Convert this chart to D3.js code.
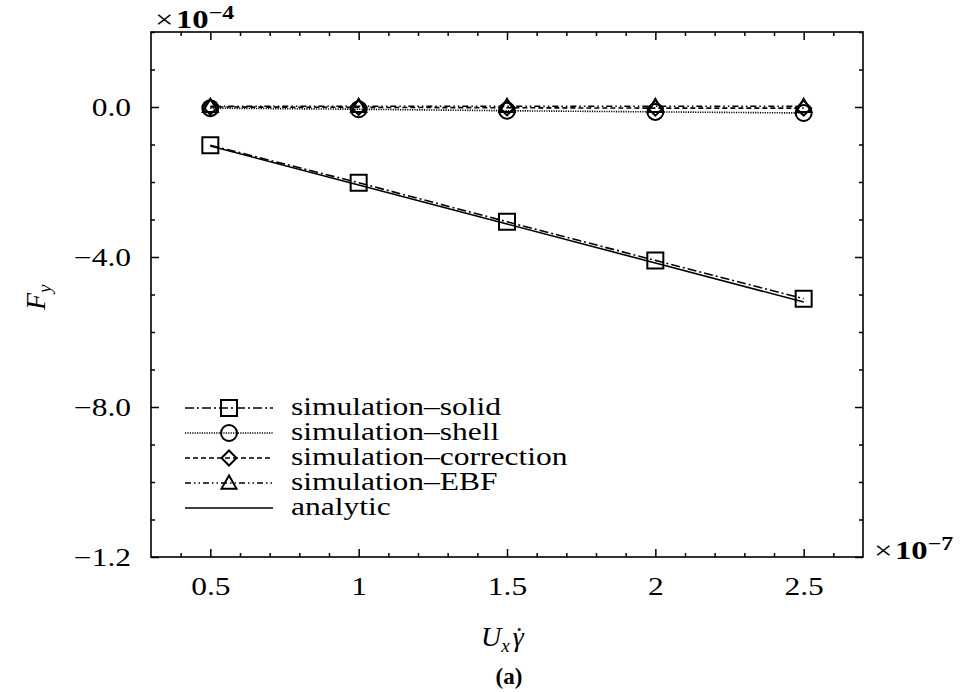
<!DOCTYPE html>
<html><head><meta charset="utf-8">
<script src="https://cdn.jsdelivr.net/npm/d3@7"></script>
<style>body{margin:0;background:#fff}svg{display:block}</style>
</head><body><svg id="c" width="966" height="692"></svg>
<script>
const FONT = "'Liberation Serif','Times New Roman',Tinos,'Noto Serif','DejaVu Serif',serif";
const xVals = [0.5, 1, 1.5, 2, 2.5];
const solid = [-1.02, -2.02, -3.06, -4.09, -5.11];
const shell = [-0.03, -0.06, -0.1, -0.13, -0.16];
const correction = [0.0, -0.01, -0.02, -0.03, -0.03];
const ebf = [0.02, 0.02, 0.02, 0.02, 0.02];
const analytic = [-1.04, -2.08, -3.12, -4.16, -5.2];
const xTicks = [0.5, 1, 1.5, 2, 2.5];
const xTickLabels = ["0.5", "1", "1.5", "2", "2.5"];
const yTicks = [0, -4, -8, -12];
const yTickLabels = ["0.0", "\u22124.0", "\u22128.0", "\u22121.2"];
const seriesNames = ["simulation\u2013solid", "simulation\u2013shell", "simulation\u2013correction", "simulation\u2013EBF", "analytic"];

const svg = d3.select("#c");
const L = 151, R = 863, T = 32, B = 557;
const x = d3.scaleLinear().domain([0.3, 2.7]).range([L, R]);
const y = d3.scaleLinear().domain([-12, 2]).range([B, T]);
const K = 1.26; // horizontal stretch to mimic the wide serif face

function stretch(sel, k) {
  sel.each(function(){ const l = this.getComputedTextLength();
    this.setAttribute("textLength", l * k); this.setAttribute("lengthAdjust", "spacingAndGlyphs"); });
}

const series = [
  {name: seriesNames[0], v: solid, dash: "9,3,2,3", marker: "square"},
  {name: seriesNames[1], v: shell, dash: "1.2,1.2", marker: "circle"},
  {name: seriesNames[2], v: correction, dash: "5,3", marker: "diamond"},
  {name: seriesNames[3], v: ebf, dash: "6,3,1.5,3,1.5,3", marker: "triangle"},
  {name: seriesNames[4], v: analytic, dash: null, marker: null}
];

const line = d3.line().x((d,i)=>x(xVals[i])).y(d=>y(d));
const g = svg.append("g");

function drawMarker(sel, type, cx, cy) {
  const s = sel.append("path").attr("fill","none").attr("stroke","#000").attr("stroke-width",2);
  let d;
  if (type === "square") { const h=8; d=`M${cx-h},${cy-h}h${2*h}v${2*h}h${-2*h}Z`; }
  else if (type === "circle") { const r=8; d=`M${cx-r},${cy}a${r},${r} 0 1,0 ${2*r},0a${r},${r} 0 1,0 ${-2*r},0`; }
  else if (type === "diamond") { const h=7.5; d=`M${cx},${cy-h}L${cx+h},${cy}L${cx},${cy+h}L${cx-h},${cy}Z`; }
  else if (type === "triangle") { const h=7.5; d=`M${cx},${cy-h}L${cx+h},${cy+h*0.75}L${cx-h},${cy+h*0.75}Z`; }
  s.attr("d", d);
}

series.forEach(s => {
  g.append("path").datum(s.v).attr("d", line).attr("fill","none").attr("stroke","#000")
    .attr("stroke-width", 1.6).attr("stroke-dasharray", s.dash);
  if (s.marker) s.v.forEach((v,i)=> drawMarker(g, s.marker, x(xVals[i]), y(v)));
});

// axes
const minorX = d3.range(4, 27).map(d=>d/10).filter(d=>!xTicks.some(t=>Math.abs(t-d)<1e-9));
const minorY = d3.range(-12, 3).filter(d=>!yTicks.includes(d));
function styleAxis(a){ a.selectAll("path,line").attr("stroke","#000").attr("stroke-width",1.5); a.select(".domain").remove(); }
const ax = [];
ax.push(svg.append("g").attr("transform",`translate(0,${B})`).call(d3.axisBottom(x).tickValues(xTicks).tickSize(-8).tickFormat((d,i)=>xTickLabels[i]).tickPadding(20)));
ax.push(svg.append("g").attr("transform",`translate(0,${B})`).call(d3.axisBottom(x).tickValues(minorX).tickSize(-4).tickFormat("")));
ax.push(svg.append("g").attr("transform",`translate(0,${T})`).call(d3.axisTop(x).tickValues(xTicks).tickSize(-8).tickFormat("")));
ax.push(svg.append("g").attr("transform",`translate(0,${T})`).call(d3.axisTop(x).tickValues(minorX).tickSize(-4).tickFormat("")));
ax.push(svg.append("g").attr("transform",`translate(${L},0)`).call(d3.axisLeft(y).tickValues(yTicks).tickSize(-8).tickFormat((d,i)=>yTickLabels[i]).tickPadding(20)));
ax.push(svg.append("g").attr("transform",`translate(${L},0)`).call(d3.axisLeft(y).tickValues(minorY).tickSize(-4).tickFormat("")));
ax.push(svg.append("g").attr("transform",`translate(${R},0)`).call(d3.axisRight(y).tickValues(yTicks).tickSize(-8).tickFormat("")));
ax.push(svg.append("g").attr("transform",`translate(${R},0)`).call(d3.axisRight(y).tickValues(minorY).tickSize(-4).tickFormat("")));
ax.forEach(a=>{ styleAxis(a); a.attr("font-family", FONT).attr("font-size", 25);
  const t = a.selectAll("text").attr("fill","#000").style("font-family", FONT).style("font-size","25px");
  stretch(t.filter(function(){ return this.textContent.length > 0; }), K); });
svg.append("rect").attr("x",L).attr("y",T).attr("width",R-L).attr("height",B-T).attr("fill","none").attr("stroke","#000").attr("stroke-width",1.6);

function txt(parent){ return parent.append("text").style("font-family", FONT).attr("fill","#000"); }

// legend
const lg = svg.append("g");
series.forEach((s,i)=>{
  const yy = 408 + i*25;
  lg.append("line").attr("x1",185).attr("x2",273).attr("y1",yy).attr("y2",yy).attr("stroke","#000")
    .attr("stroke-width",1.6).attr("stroke-dasharray", s.dash);
  if (s.marker) drawMarker(lg, s.marker, 229, yy);
  const t = txt(lg).attr("x",291).attr("y",yy+7).style("font-size","25px").text(s.name);
  stretch(t, K);
});

// multipliers
function mult(xx, yy, e) {
  const m = txt(svg).attr("x",xx).attr("y",yy).style("font-size","26px");
  m.append("tspan").text("\u00d7");
  m.append("tspan").attr("font-weight","bold").attr("dx",2).text("10");
  m.append("tspan").attr("font-weight","bold").style("font-size","19px").attr("dy",-9).text(e);
  stretch(m, 1.3);
}
mult(155, 28, "\u22124");
mult(874, 559, "\u22127");

// axis labels
const xl = txt(svg).attr("x",481).attr("y",646).style("font-size","28px").attr("font-style","italic");
xl.append("tspan").text("U");
xl.append("tspan").style("font-size","19px").attr("dy",6).text("x");
const gam = xl.append("tspan").attr("dy",-6).attr("dx",3).text("\u03b3");
const gl = gam.node().getComputedTextLength();
const dot = xl.append("tspan").style("font-style","normal").text("\u02d9");
const dw = dot.node().getComputedTextLength();
dot.attr("dx", -(gl + dw) / 2 + 1);
txt(svg).attr("x",509).attr("y",684).style("font-size","23px").attr("font-weight","bold").attr("text-anchor","middle").text("(a)");
const yl = txt(svg).attr("transform","translate(45,310) rotate(-90)").style("font-size","28px").attr("font-style","italic");
yl.append("tspan").text("F");
yl.append("tspan").style("font-size","19px").attr("dy",6).text("y");
</script></body></html>
